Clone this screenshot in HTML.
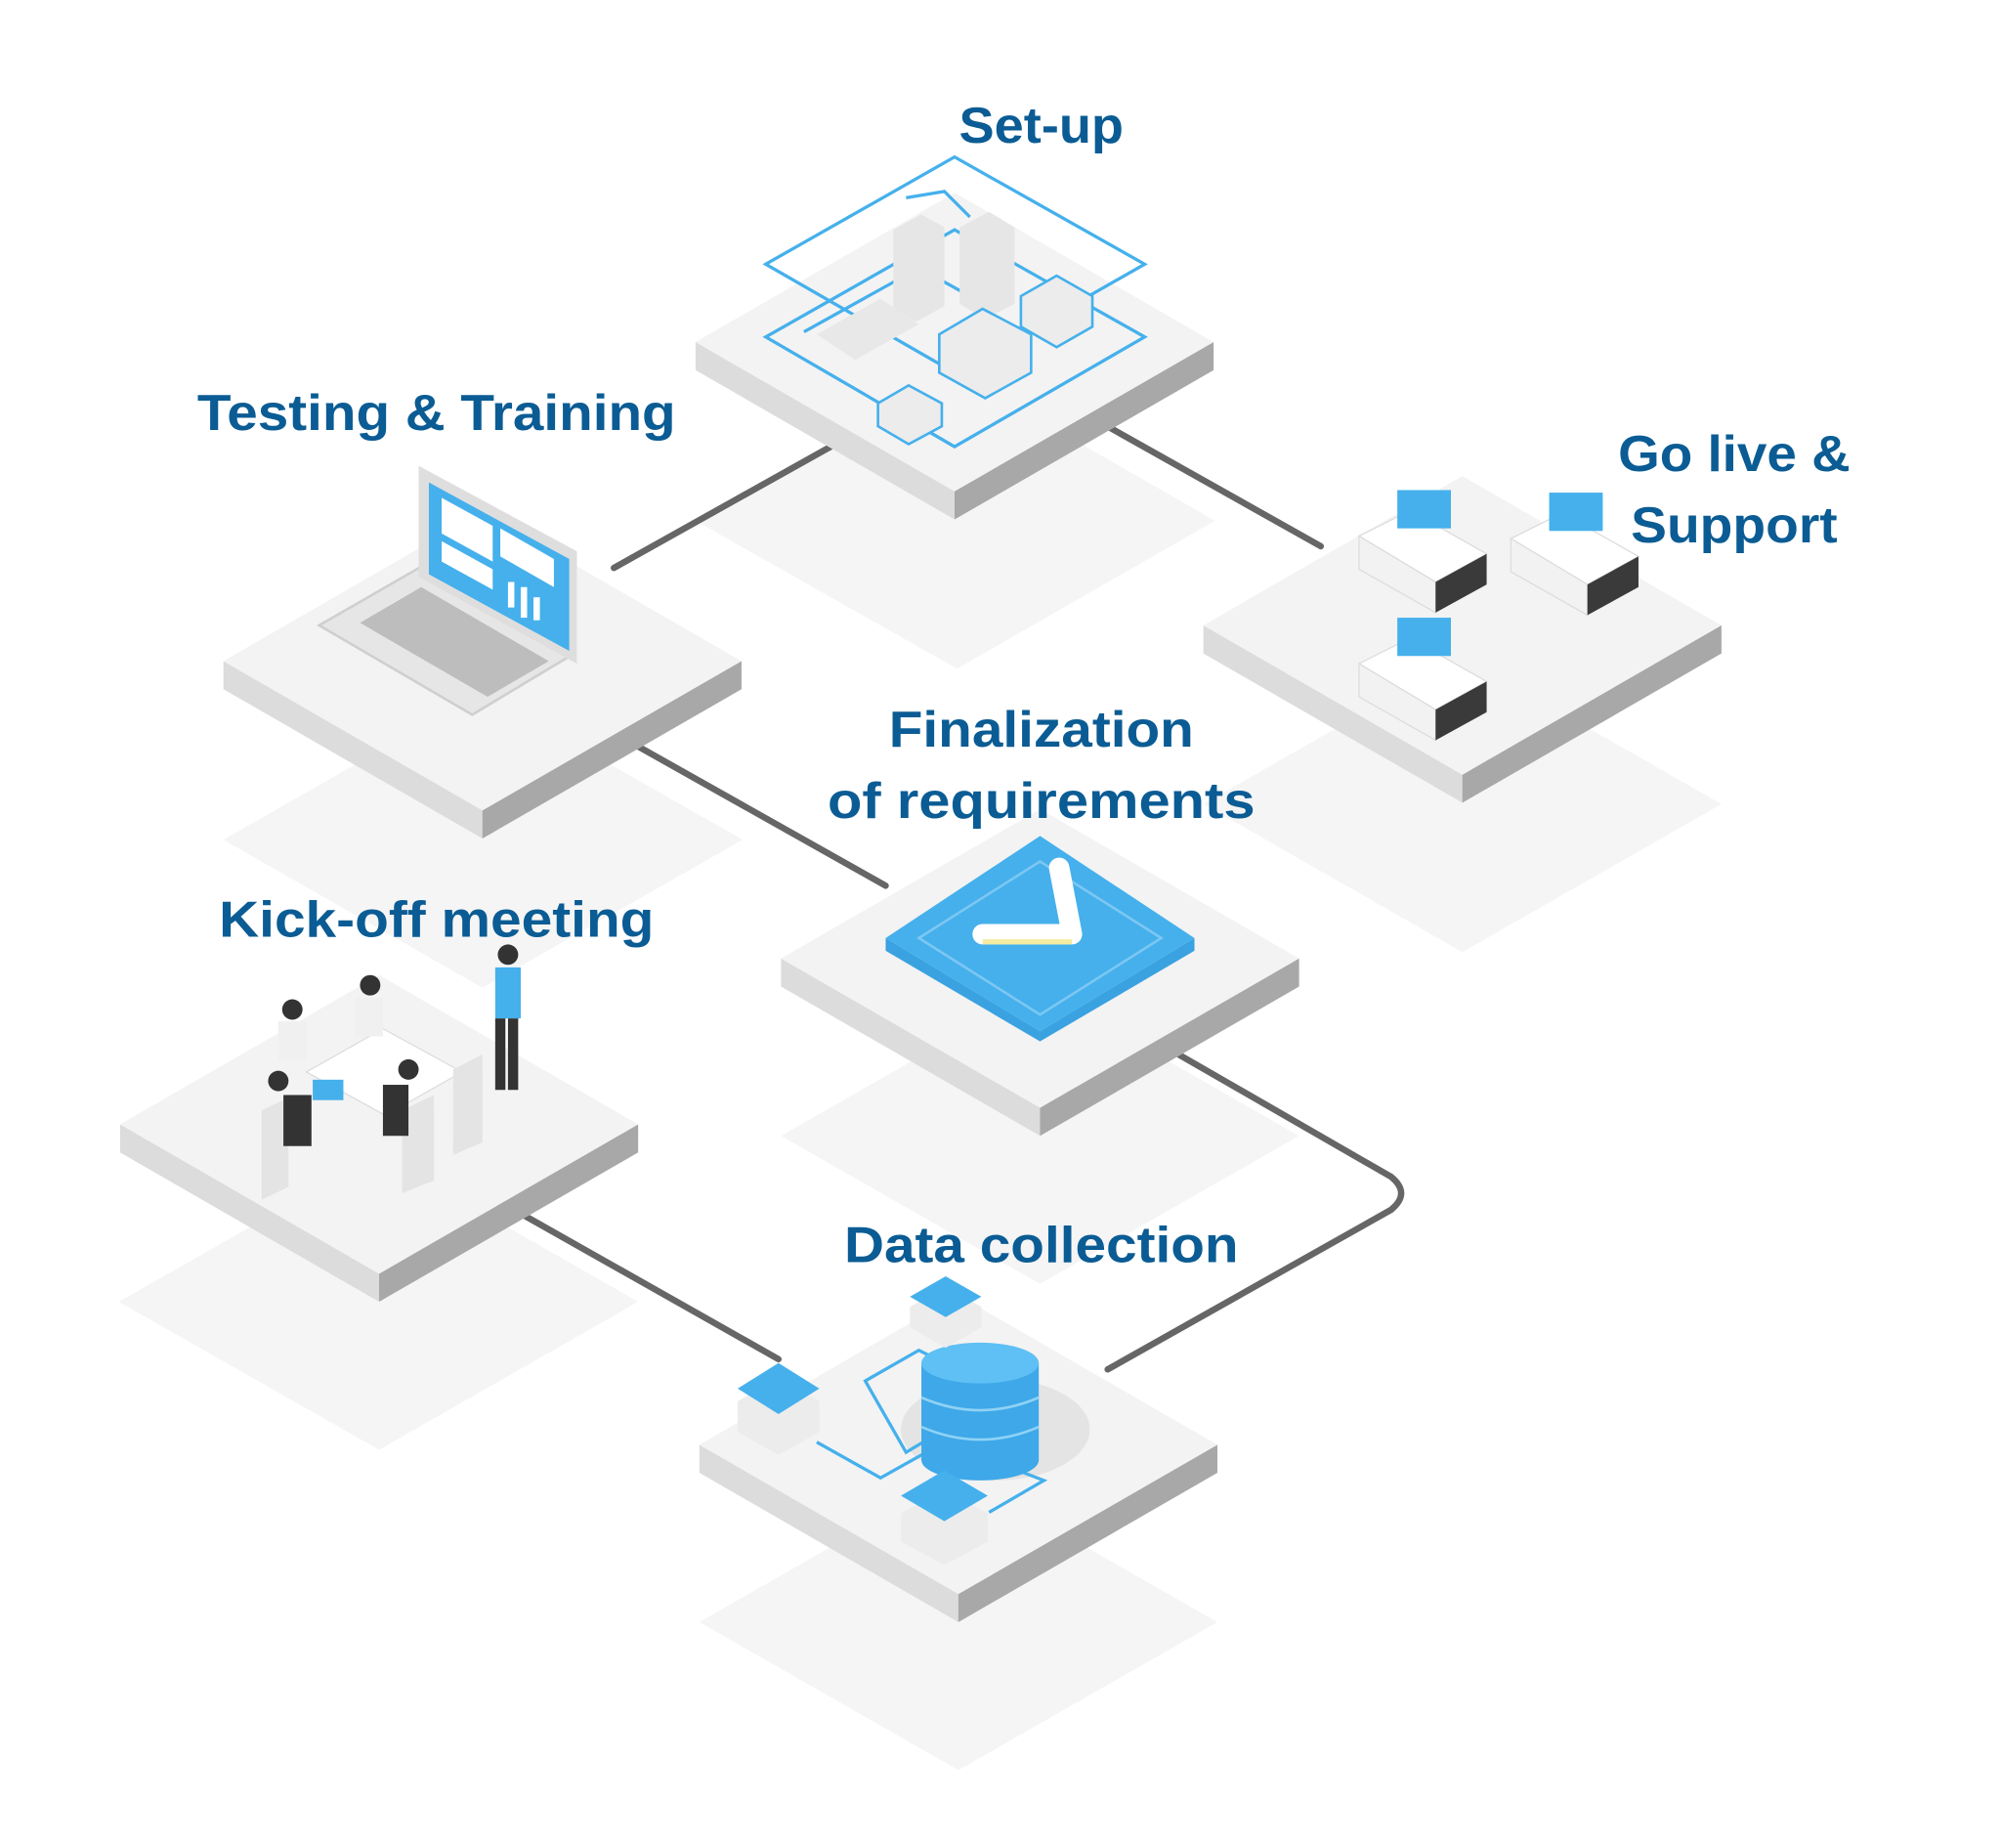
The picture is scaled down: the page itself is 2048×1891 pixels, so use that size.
<!DOCTYPE html>
<html><head><meta charset="utf-8"><style>
html,body{margin:0;padding:0;background:#fff;}
svg{display:block}
text{font-family:"Liberation Sans",sans-serif;font-weight:bold;fill:#0b5c94;font-size:40px;text-anchor:middle}
</style></head><body>
<svg width="2048" height="1891" viewBox="0 0 1568 1448" xmlns="http://www.w3.org/2000/svg">

<!-- shadows -->
<g fill="#f5f5f5" transform="translate(0,16)">
  <polygon points="545,392 750,276 952,392 750,508"/>
  <polygon points="175,642 378,526 582,642 378,758"/>
  <polygon points="943,614 1146,498 1349,614 1146,730"/>
  <polygon points="612,874 815,758 1018,874 815,990"/>
  <polygon points="93,1004 297,888 500,1004 297,1120"/>
  <polygon points="548,1255 751,1139 954,1255 751,1371"/>
</g>

<!-- connectors -->
<g stroke="#666" stroke-width="5" fill="none" stroke-linecap="round">
  <line x1="481" y1="445" x2="658" y2="346"/>
  <line x1="866" y1="333" x2="1035" y2="428"/>
  <line x1="486" y1="577" x2="694" y2="694"/>
  <path d="M918,823 L1090,922 Q1106,935 1090,948 L868,1073"/>
  <line x1="410" y1="952" x2="610" y2="1065"/>
</g>

<!-- platforms -->
<g>
<g transform="translate(748,268)">
  <polygon points="-203,0 0,117 203,0 203,22 0,139 -203,22" fill="#dcdcdc"/>
  <polygon points="0,117 203,0 203,22 0,139" fill="#a8a8a8"/>
  <polygon points="-203,0 0,-117 203,0 0,117" fill="#f3f3f3"/>
</g>
<g transform="translate(378,518)">
  <polygon points="-203,0 0,117 203,0 203,22 0,139 -203,22" fill="#dcdcdc"/>
  <polygon points="0,117 203,0 203,22 0,139" fill="#a8a8a8"/>
  <polygon points="-203,0 0,-117 203,0 0,117" fill="#f3f3f3"/>
</g>
<g transform="translate(1146,490)">
  <polygon points="-203,0 0,117 203,0 203,22 0,139 -203,22" fill="#dcdcdc"/>
  <polygon points="0,117 203,0 203,22 0,139" fill="#a8a8a8"/>
  <polygon points="-203,0 0,-117 203,0 0,117" fill="#f3f3f3"/>
</g>
<g transform="translate(815,751)">
  <polygon points="-203,0 0,117 203,0 203,22 0,139 -203,22" fill="#dcdcdc"/>
  <polygon points="0,117 203,0 203,22 0,139" fill="#a8a8a8"/>
  <polygon points="-203,0 0,-117 203,0 0,117" fill="#f3f3f3"/>
</g>
<g transform="translate(297,881)">
  <polygon points="-203,0 0,117 203,0 203,22 0,139 -203,22" fill="#dcdcdc"/>
  <polygon points="0,117 203,0 203,22 0,139" fill="#a8a8a8"/>
  <polygon points="-203,0 0,-117 203,0 0,117" fill="#f3f3f3"/>
</g>
<g transform="translate(751,1132)">
  <polygon points="-203,0 0,117 203,0 203,22 0,139 -203,22" fill="#dcdcdc"/>
  <polygon points="0,117 203,0 203,22 0,139" fill="#a8a8a8"/>
  <polygon points="-203,0 0,-117 203,0 0,117" fill="#f3f3f3"/>
</g>
</g>

<!-- Set-up illustration -->
<g fill="none" stroke="#45b0ec" stroke-width="2.5">
  <polygon points="600,207 748,123 897,207 748,292"/>
  <polygon points="600,264 748,180 897,264 748,350"/>
  <polyline points="630,260 720,210 760,232"/>
  <polyline points="710,155 740,150 760,170"/>
</g>
<g>
  <polygon points="700,180 722,168 740,178 740,240 718,252 700,242" fill="#e6e6e6"/>
  <polygon points="752,178 775,166 795,178 795,238 772,250 752,238" fill="#e6e6e6"/>
  <polygon points="736,262 770,242 808,262 808,292 772,312 736,292" fill="#ececec" stroke="#45b0ec" stroke-width="2"/>
  <polygon points="800,232 828,216 856,232 856,256 828,272 800,256" fill="#ececec" stroke="#45b0ec" stroke-width="2"/>
  <polygon points="688,316 712,302 738,316 738,334 712,348 688,334" fill="#ececec" stroke="#45b0ec" stroke-width="2"/>
  <polygon points="640,262 690,234 720,254 670,282" fill="#e8e8e8"/>
</g>

<!-- Laptop -->
<g>
  <polygon points="250,490 330,444 450,512 370,560" fill="#e6e6e6" stroke="#cfcfcf" stroke-width="2"/>
  <polygon points="282,488 330,460 430,518 382,546" fill="#bdbdbd"/>
  <polygon points="328,365 452,432 452,520 328,452" fill="#dedede"/>
  <polygon points="336,378 446,438 446,510 336,450" fill="#45b0ec"/>
  <polygon points="346,390 386,412 386,440 346,418" fill="#fff"/>
  <polygon points="392,414 434,438 434,460 392,436" fill="#fff"/>
  <polygon points="346,424 386,446 386,462 346,440" fill="#fff"/>
  <rect x="398" y="456" width="5" height="20" fill="#fff"/><rect x="408" y="460" width="5" height="24" fill="#fff"/><rect x="418" y="468" width="5" height="18" fill="#fff"/>
</g>

<!-- Trucks -->
<g>
  <g transform="translate(1065,400)">
    <polygon points="0,20 40,0 100,34 60,56" fill="#fff" stroke="#ddd"/>
    <polygon points="0,20 60,56 60,80 0,46" fill="#f2f2f2" stroke="#ddd"/>
    <polygon points="60,56 100,34 100,58 60,80" fill="#3a3a3a"/>
    <rect x="30" y="-16" width="42" height="30" fill="#45b0ec"/>
  </g>
  <g transform="translate(1184,402)">
    <polygon points="0,20 40,0 100,34 60,56" fill="#fff" stroke="#ddd"/>
    <polygon points="0,20 60,56 60,80 0,46" fill="#f2f2f2" stroke="#ddd"/>
    <polygon points="60,56 100,34 100,58 60,80" fill="#3a3a3a"/>
    <rect x="30" y="-16" width="42" height="30" fill="#45b0ec"/>
  </g>
  <g transform="translate(1065,500)">
    <polygon points="0,20 40,0 100,34 60,56" fill="#fff" stroke="#ddd"/>
    <polygon points="0,20 60,56 60,80 0,46" fill="#f2f2f2" stroke="#ddd"/>
    <polygon points="60,56 100,34 100,58 60,80" fill="#3a3a3a"/>
    <rect x="30" y="-16" width="42" height="30" fill="#45b0ec"/>
  </g>
</g>

<!-- Finalization -->
<g>
  <polygon points="694,735 815,808 936,735 936,745 815,816 694,745" fill="#3aa2e0"/>
  <polygon points="694,735 815,655 936,735 815,808" fill="#45b0ec"/>
  <polygon points="720,735 815,675 910,735 815,795" fill="none" stroke="#7cc7f2" stroke-width="2"/>
  <path d="M770,732 L840,732 L830,680" stroke="#fff" stroke-width="16" fill="none" stroke-linejoin="round" stroke-linecap="round"/>
  <line x1="770" y1="738" x2="840" y2="738" stroke="#f4eca0" stroke-width="4"/>
</g>

<!-- Kick-off meeting -->
<g>
  <polygon points="240,840 300,806 362,840 302,874" fill="#fff" stroke="#ddd"/>
  <polygon points="205,870 226,860 226,930 205,940" fill="#e4e4e4"/>
  <polygon points="315,870 340,858 340,925 315,935" fill="#e4e4e4"/>
  <polygon points="355,838 378,826 378,895 355,905" fill="#e4e4e4"/>
  <rect x="245" y="846" width="24" height="16" fill="#45b0ec"/>
  <circle cx="229" cy="791" r="8" fill="#333"/><rect x="218" y="800" width="22" height="30" fill="#f0f0f0"/>
  <circle cx="290" cy="772" r="8" fill="#333"/><rect x="278" y="782" width="22" height="30" fill="#f0f0f0"/>
  <circle cx="218" cy="847" r="8" fill="#333"/><rect x="222" y="858" width="22" height="40" fill="#333"/>
  <circle cx="320" cy="838" r="8" fill="#333"/><rect x="300" y="850" width="20" height="40" fill="#333"/>
  <circle cx="398" cy="748" r="8" fill="#333"/>
  <rect x="388" y="758" width="20" height="40" fill="#45b0ec"/>
  <rect x="388" y="798" width="8" height="56" fill="#333"/><rect x="398" y="798" width="8" height="56" fill="#333"/>
</g>

<!-- Data collection -->
<g>
  <ellipse cx="780" cy="1120" rx="74" ry="40" fill="#e4e4e4"/>
  <polygon points="678,1082 720,1058 740,1068 740,1120 710,1138" fill="none" stroke="#45b0ec" stroke-width="2.5"/>
  <polyline points="640,1130 690,1158 740,1130 818,1160 775,1185" fill="none" stroke="#45b0ec" stroke-width="2.5"/>
  <rect x="722" y="1068" width="92" height="76" fill="#3ea8e8"/>
  <ellipse cx="768" cy="1144" rx="46" ry="16" fill="#3ea8e8"/>
  <ellipse cx="768" cy="1068" rx="46" ry="16" fill="#5ec0f4"/>
  <g fill="none" stroke="#8fd2f6" stroke-width="2"><path d="M722,1095 Q768,1115 814,1095"/><path d="M722,1118 Q768,1138 814,1118"/></g>
  <g>
    <polygon points="578,1098 610,1080 642,1098 642,1122 610,1140 578,1122" fill="#ececec"/>
    <polygon points="578,1088 610,1068 642,1088 610,1108" fill="#45b0ec"/>
    <polygon points="706,1186 740,1166 774,1186 774,1208 740,1226 706,1208" fill="#ececec"/>
    <polygon points="706,1172 740,1152 774,1172 740,1192" fill="#45b0ec"/>
    <polygon points="713,1024 741,1008 769,1024 769,1040 741,1056 713,1040" fill="#ececec"/>
    <polygon points="713,1016 741,1000 769,1016 741,1032" fill="#45b0ec"/>
  </g>
</g>

<!-- Labels -->
<text x="816" y="112" textLength="129" lengthAdjust="spacingAndGlyphs">Set-up</text>
<text x="342" y="337" textLength="375" lengthAdjust="spacingAndGlyphs">Testing &amp; Training</text>
<text x="1359" y="369" textLength="182" lengthAdjust="spacingAndGlyphs">Go live &amp;</text>
<text x="1359" y="425" textLength="162" lengthAdjust="spacingAndGlyphs">Support</text>
<text x="816" y="585" textLength="239" lengthAdjust="spacingAndGlyphs">Finalization</text>
<text x="816" y="641" textLength="335" lengthAdjust="spacingAndGlyphs">of requirements</text>
<text x="342" y="734" textLength="341" lengthAdjust="spacingAndGlyphs">Kick-off meeting</text>
<text x="816" y="989" textLength="309" lengthAdjust="spacingAndGlyphs">Data collection</text>
</svg>
</body></html>
